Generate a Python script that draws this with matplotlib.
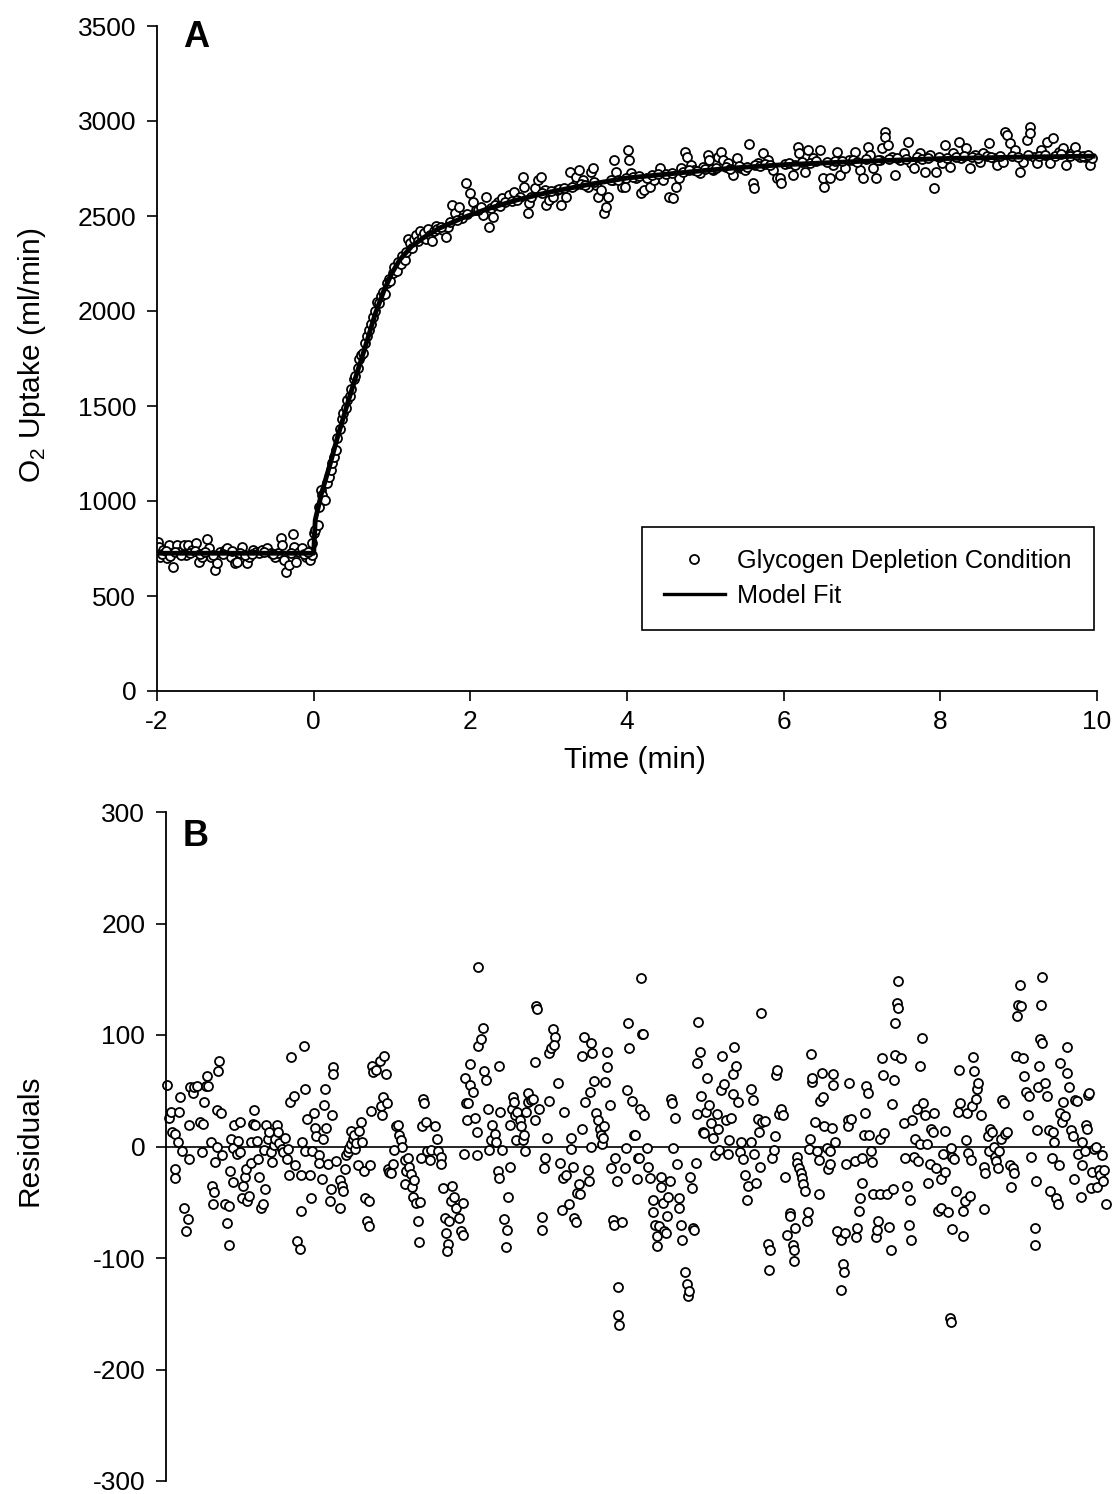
import numpy as np
import matplotlib
matplotlib.use("Agg")
import matplotlib.pyplot as plt
from matplotlib.lines import Line2D

plt.rcParams['font.family'] = ['Liberation Sans', 'DejaVu Sans']
plt.rcParams['mathtext.fontset'] = 'custom'
plt.rcParams['mathtext.rm'] = 'Liberation Sans'
plt.rcParams['axes.unicode_minus'] = False

# --- panel A: measured O2 uptake (time in min, ml/min) ---
obs_points = [
    # baseline
    (-1.99, 786), (-1.98, 760), (-1.96, 707), (-1.92, 742), (-1.87, 700), (-1.85, 768), (-1.81, 725),
    (-1.79, 654), (-1.74, 768), (-1.72, 733), (-1.66, 768), (-1.63, 716), (-1.60, 768), (-1.55, 742),
    (-1.50, 777), (-1.47, 681), (-1.43, 707), (-1.36, 798), (-1.34, 751), (-1.31, 707), (-1.26, 637),
    (-1.23, 672), (-1.19, 733), (-1.13, 742), (-1.10, 751), (-1.06, 707), (-1.01, 672), (-0.98, 681),
    (-0.91, 760), (-0.85, 672), (-0.82, 707), (-0.77, 742), (-0.74, 733), (-0.70, 725), (-0.66, 742),
    (-0.60, 751), (-0.55, 725), (-0.49, 707), (-0.45, 725), (-0.42, 807), (-0.40, 768), (-0.38, 690),
    (-0.35, 628), (-0.32, 663), (-0.27, 824), (-0.25, 760), (-0.22, 681), (-0.19, 733), (-0.15, 751),
    (-0.10, 707), (-0.05, 690), (-0.02, 716),
    (-1.94, 720), (-1.89, 735), (-1.83, 710), (-1.77, 730), (-1.69, 715), (-1.58, 725), (-1.52, 735),
    (-1.45, 720), (-1.39, 730), (-1.28, 715), (-1.16, 720), (-1.04, 735), (-0.94, 725), (-0.88, 715),
    (-0.79, 720), (-0.63, 730), (-0.52, 720), (-0.29, 725), (-0.12, 720), (-0.07, 730),
    # on-transient
    (-0.02, 777), (0.00, 830), (0.02, 847), (0.05, 873), (0.07, 970), (0.09, 1058), (0.11, 1032),
    (0.15, 1005), (0.17, 1093), (0.19, 1128), (0.22, 1163), (0.24, 1198), (0.26, 1233), (0.28, 1268),
    (0.30, 1330), (0.33, 1380), (0.36, 1430), (0.38, 1465), (0.41, 1490), (0.43, 1530), (0.46, 1555),
    (0.48, 1590), (0.51, 1640), (0.53, 1660), (0.56, 1700), (0.58, 1745), (0.61, 1770), (0.63, 1780),
    (0.66, 1830), (0.68, 1870), (0.71, 1900), (0.73, 1930), (0.76, 1970), (0.78, 2000), (0.81, 2050),
    (0.83, 2040), (0.86, 2080), (0.88, 2100), (0.91, 2090), (0.93, 2150), (0.96, 2170), (0.98, 2160),
    (1.01, 2200), (1.03, 2230), (1.06, 2210), (1.08, 2260), (1.11, 2250), (1.13, 2290), (1.16, 2270),
    (1.18, 2310), (1.21, 2380), (1.23, 2360), (1.26, 2330), (1.28, 2380), (1.31, 2400), (1.33, 2370),
    (1.36, 2420), (1.38, 2390), (1.41, 2410), (1.43, 2380), (1.46, 2430), (1.48, 2400), (1.51, 2370),
    (1.53, 2420), (1.56, 2450), (1.58, 2430),
    # slow component / steady state
    (1.65, 2426), (1.69, 2391), (1.71, 2444), (1.77, 2558), (1.80, 2514), (1.86, 2549), (1.90, 2488),
    (1.94, 2672), (1.99, 2619), (2.03, 2575), (2.07, 2532), (2.16, 2505), (2.20, 2602), (2.24, 2444),
    (2.29, 2497), (2.35, 2575), (2.41, 2593), (2.50, 2611), (2.56, 2628), (2.63, 2602), (2.67, 2707),
    (2.69, 2654), (2.73, 2514), (2.75, 2567), (2.82, 2646), (2.86, 2690), (2.90, 2707), (2.95, 2637),
    (2.97, 2558), (3.01, 2584), (3.05, 2602), (3.10, 2637), (3.16, 2558), (3.22, 2602), (3.27, 2733),
    (3.33, 2663), (3.35, 2707), (3.39, 2742), (3.44, 2690), (3.50, 2654), (3.54, 2733), (3.56, 2751),
    (3.61, 2663), (3.63, 2602), (3.67, 2637), (3.70, 2514), (3.73, 2549), (3.76, 2602), (3.82, 2690),
    (3.84, 2795), (3.86, 2733), (3.93, 2654), (3.97, 2654), (4.01, 2847), (4.02, 2795), (4.05, 2725),
    (4.12, 2698), (4.18, 2619), (4.22, 2637), (4.29, 2654), (4.35, 2690), (4.42, 2751), (4.46, 2690),
    (4.54, 2602), (4.59, 2593), (4.63, 2654), (4.67, 2698), (4.69, 2751), (4.74, 2838), (4.76, 2812),
    (4.82, 2768), (4.86, 2742), (4.93, 2725), (4.97, 2760), (5.03, 2821), (5.05, 2795), (5.10, 2742),
    (5.16, 2812), (5.20, 2838), (5.23, 2795), (5.29, 2777), (5.35, 2716), (5.40, 2803), (5.46, 2751),
    (5.50, 2742), (5.56, 2879), (5.61, 2672), (5.62, 2646), (5.67, 2777), (5.73, 2830), (5.80, 2795),
    (5.86, 2742), (5.91, 2698), (5.95, 2698), (5.97, 2672), (6.12, 2716), (6.18, 2865), (6.20, 2830),
    (6.27, 2733), (6.31, 2847), (6.37, 2803), (6.46, 2847), (6.50, 2698), (6.52, 2654), (6.59, 2698),
    (6.63, 2768), (6.68, 2838), (6.72, 2716), (6.78, 2751), (6.84, 2795), (6.91, 2838), (6.97, 2742),
    (7.01, 2698), (7.08, 2865), (7.10, 2821), (7.14, 2751), (7.18, 2698), (7.23, 2795), (7.25, 2856),
    (7.29, 2944), (7.30, 2917), (7.33, 2873), (7.38, 2812), (7.42, 2716), (7.48, 2795), (7.53, 2830),
    (7.59, 2891), (7.63, 2777), (7.67, 2751), (7.74, 2830), (7.80, 2733), (7.87, 2821), (7.92, 2646),
    (7.95, 2733), (8.02, 2777), (8.06, 2873), (8.12, 2760), (8.16, 2830), (8.24, 2891), (8.27, 2803),
    (8.33, 2856), (8.38, 2751), (8.44, 2821), (8.51, 2786), (8.55, 2830), (8.62, 2882), (8.68, 2803),
    (8.72, 2768), (8.80, 2786), (8.82, 2944), (8.85, 2926), (8.89, 2882), (8.95, 2847), (9.02, 2733),
    (9.06, 2786), (9.10, 2900), (9.14, 2970), (9.15, 2935), (9.19, 2812), (9.23, 2777), (9.29, 2847),
    (9.36, 2891), (9.40, 2777), (9.44, 2908), (9.51, 2838), (9.57, 2856), (9.61, 2768), (9.68, 2830),
    (9.72, 2865), (9.78, 2812), (9.85, 2812), (9.91, 2768), (9.94, 2803),
    (1.62, 2440), (1.74, 2470), (1.83, 2480), (1.96, 2510), (2.10, 2530), (2.13, 2545), (2.26, 2540),
    (2.32, 2560), (2.38, 2555), (2.44, 2575), (2.53, 2580), (2.59, 2585), (2.78, 2600), (2.92, 2620),
    (3.03, 2630), (3.13, 2640), (3.19, 2650), (3.30, 2655), (3.41, 2670), (3.47, 2665), (3.58, 2680),
    (3.79, 2690), (3.89, 2690), (3.99, 2700), (4.08, 2705), (4.15, 2710), (4.25, 2700), (4.32, 2715),
    (4.39, 2720), (4.50, 2720), (4.57, 2725), (4.71, 2730), (4.79, 2740), (4.89, 2735), (5.00, 2745),
    (5.08, 2750), (5.13, 2755), (5.26, 2760), (5.32, 2750), (5.43, 2765), (5.53, 2760), (5.64, 2770),
    (5.70, 2765), (5.76, 2775), (5.83, 2770), (6.02, 2775), (6.07, 2780), (6.15, 2770), (6.23, 2785),
    (6.34, 2780), (6.41, 2790), (6.55, 2785), (6.66, 2790), (6.75, 2790), (6.88, 2795), (6.94, 2785),
    (7.05, 2800), (7.20, 2795), (7.35, 2800), (7.45, 2805), (7.56, 2800), (7.70, 2810), (7.77, 2800),
    (7.84, 2805), (7.98, 2810), (8.09, 2805), (8.20, 2810), (8.30, 2815), (8.41, 2810), (8.48, 2805),
    (8.59, 2815), (8.65, 2810), (8.76, 2815), (8.92, 2815), (8.99, 2810), (9.12, 2820), (9.26, 2815),
    (9.33, 2820), (9.47, 2815), (9.54, 2825), (9.65, 2815), (9.75, 2820), (9.82, 2815), (9.88, 2820),
]

# model fit
fit_t = [-2.0, 0.0, 0.02, 0.1, 0.2, 0.3, 0.43, 0.55, 0.65, 0.79, 0.9, 1.0, 1.1, 1.25, 1.4, 1.6,
         1.9, 2.2, 2.6, 3.0, 3.5, 4.0, 4.5, 5.0, 5.5, 6.0, 7.0, 8.0, 9.0, 9.95]
fit_v = [725, 725, 900, 1040, 1180, 1330, 1510, 1670, 1800, 1990, 2110, 2200, 2270, 2340, 2385, 2435,
         2490, 2535, 2585, 2625, 2665, 2700, 2720, 2740, 2757, 2770, 2788, 2802, 2810, 2815]

# --- panel B: residuals ---
resid_points = [
    (-1.99, 55), (-1.96, 26), (-1.94, 31), (-1.92, 13), (-1.89, 11), (-1.88, -20), (-1.89, -28), (-1.85, 4),
    (-1.82, 44), (-1.83, 31), (-1.79, -4), (-1.77, -55), (-1.72, -65), (-1.74, -76), (-1.71, -11), (-1.70, 19),
    (-1.69, 53), (-1.66, 48), (-1.64, 53), (-1.60, 54), (-1.56, 22), (-1.53, 20), (-1.54, -5), (-1.51, 40),
    (-1.49, 54), (-1.48, 63), (-1.46, 54), (-1.43, 4), (-1.41, -35), (-1.39, -41), (-1.40, -52), (-1.37, -14),
    (-1.35, 0), (-1.34, 68), (-1.32, 77), (-1.35, 33), (-1.30, 30), (-1.28, -8), (-1.25, -52), (-1.22, -69),
    (-1.20, -88), (-1.19, -53), (-1.18, -22), (-1.17, 7), (-1.15, -1), (-1.14, -32), (-1.13, 19), (-1.09, -7),
    (-1.08, 5), (-1.06, 22), (-1.05, -5), (-1.03, -46), (-1.01, -35), (-0.99, -27), (-0.98, -20), (-0.96, -49),
    (-0.94, -44), (-0.92, -15), (-0.91, 4), (-0.89, 20), (-0.88, 33), (-0.86, 19), (-0.84, 5), (-0.82, -11),
    (-0.81, -27), (-0.79, -55), (-0.76, -52), (-0.74, -38), (-0.75, -3), (-0.72, 19), (-0.70, 7), (-0.68, 13),
    (-0.66, -5), (-0.65, -14), (-0.62, 1), (-0.61, 7), (-0.58, 19), (-0.57, 13), (-0.55, 3), (-0.52, -2),
    (-0.50, -5), (-0.48, 8), (-0.45, -11), (-0.44, -2), (-0.43, -26), (-0.40, 80), (-0.41, 40), (-0.37, 45),
    (-0.35, -17), (-0.32, -85), (-0.29, -92), (-0.28, -58), (-0.27, -26), (-0.26, 4), (-0.24, 90), (-0.22, 52),
    (-0.23, -4), (-0.20, 25), (-0.16, -26), (-0.15, -46), (-0.13, -4), (-0.11, 30), (-0.10, 17), (-0.08, 9),
    (-0.05, -8), (-0.04, -15), (-0.01, -29), (0.00, 7), (0.02, 37), (0.03, 52), (0.05, 17), (0.07, -16),
    (0.10, -49), (0.11, -38), (0.12, 28), (0.13, 71), (0.14, 65), (0.17, -13), (0.22, -55), (0.23, -30),
    (0.25, -35), (0.26, -40), (0.29, -20), (0.30, -8), (0.32, -5), (0.34, -1), (0.36, 2), (0.37, 14),
    (0.39, 7), (0.40, 10), (0.41, -2), (0.43, 3), (0.45, -17), (0.47, 14), (0.49, 22), (0.50, 4),
    (0.53, -22), (0.54, -46), (0.57, -67), (0.59, -71), (0.60, -49), (0.61, -17), (0.62, 32), (0.63, 72),
    (0.65, 67), (0.68, 69), (0.73, 77), (0.75, 36), (0.76, 28), (0.77, 44), (0.79, 81), (0.81, 65),
    (0.82, 39), (0.84, -20), (0.85, -23),
    (0.88, -24), (0.90, -16), (0.94, 18), (0.97, 19), (0.98, 10), (1.00, 6), (1.02, 0), (0.92, -3),
    (1.05, -12), (1.09, -10), (1.07, -22), (1.11, -18), (1.13, -25), (1.06, -34), (1.15, -36), (1.17, -30),
    (1.16, -45), (1.19, -51), (1.24, -50), (1.22, -67), (1.23, -86), (1.26, -10), (1.28, 43), (1.30, 39),
    (1.27, 18), (1.32, 22), (1.34, -4), (1.38, -12), (1.39, -3), (1.44, 18), (1.46, 7), (1.48, -4),
    (1.51, -9), (1.52, -16), (1.54, -37), (1.56, -64), (1.58, -78), (1.60, -87), (1.59, -94), (1.62, -67),
    (1.64, -49), (1.66, -35), (1.68, -45), (1.71, -55), (1.74, -64), (1.77, -76), (1.79, -79), (1.80, -51),
    (1.81, -7), (1.82, 61), (1.83, 39), (1.85, 24), (1.86, 39), (1.88, 74), (1.89, 55), (1.92, 49),
    (1.95, 26), (1.97, -8), (1.98, 13), (1.99, 90), (1.99, 161), (2.03, 96), (2.05, 106), (2.07, 68),
    (2.09, 60), (2.11, 34), (2.13, -3), (2.15, 6), (2.17, 19), (2.20, 11), (2.22, 4), (2.24, -22),
    (2.25, -28), (2.26, 72), (2.27, 31), (2.29, -3), (2.32, -65), (2.35, -90), (2.36, -75), (2.37, -45),
    (2.39, -18), (2.40, 19), (2.42, 34), (2.44, 44), (2.45, 40), (2.46, 28), (2.47, 6), (2.49, 31),
    (2.52, 24), (2.54, 18), (2.56, 6), (2.58, 10), (2.59, -4), (2.60, 31), (2.62, 48), (2.63, 40),
    (2.66, 42), (2.69, 43), (2.71, 24), (2.72, 76), (2.73, 126), (2.74, 123), (2.77, 34), (2.83, -19),
    (2.84, -10), (2.81, -63), (2.80, -75), (2.87, 8), (2.89, 41), (2.90, 84), (2.92, 88), (2.94, 105),
    (2.97, 98), (2.96, 91), (3.01, 57), (3.04, -15), (3.07, -28), (3.08, 31), (3.06, -57), (3.11, -26),
    (3.15, -52), (3.17, -2), (3.18, 8), (3.20, -18), (3.22, -64), (3.24, -68), (3.25, -42), (3.28, -34),
    (3.29, -43), (3.31, 16), (3.32, 81), (3.34, 98), (3.35, 40), (3.39, -21), (3.41, -31), (3.42, 49),
    (3.43, 93), (3.45, 84), (3.43, 0), (3.47, 59), (3.50, 30), (3.52, 24), (3.54, 16), (3.56, 10),
    (3.57, 2), (3.58, 8), (3.60, 18), (3.61, 58), (3.63, 85), (3.64, 71), (3.67, 37), (3.69, -19),
    (3.71, -66), (3.73, -70), (3.74, -10), (3.76, -31), (3.78, -126), (3.77, -151), (3.79, -160),
    (3.83, -68), (3.86, -19), (3.88, -1), (3.89, 51), (3.90, 111), (3.92, 88), (3.95, 41), (3.98, 10),
    (3.99, 10), (4.02, -29), (4.03, -10), (4.05, -10), (4.06, 34), (4.07, 151), (4.08, 101), (4.10, 101),
    (4.11, 28), (4.15, -1), (4.16, -18), (4.19, -28), (4.22, -48), (4.23, -59), (4.25, -70), (4.27, -80),
    (4.28, -89), (4.30, -71), (4.32, -27), (4.33, -36), (4.35, -51), (4.37, -76), (4.39, -78), (4.40, -62),
    (4.42, -45), (4.44, -31), (4.46, 43), (4.47, 39), (4.48, -1), (4.50, 26), (4.53, -16), (4.55, -46),
    (4.56, -55), (4.58, -70), (4.60, -84), (4.63, -113), (4.66, -123), (4.67, -134), (4.68, -130), (4.70, -27),
    (4.72, -37), (4.73, -73), (4.75, -75), (4.77, -15), (4.78, 29), (4.79, 75), (4.80, 112), (4.82, 85),
    (4.84, 45), (4.86, 13), (4.88, 12), (4.90, 31), (4.92, 61), (4.94, 37), (4.96, 21), (4.99, 8),
    (5.01, -8), (5.04, 29), (5.06, 16), (5.07, -3), (5.09, 51), (5.11, 81), (5.13, 56), (5.16, 24),
    (5.18, -7), (5.20, 6), (5.22, 26), (5.24, 47), (5.25, 65), (5.26, 89), (5.28, 72), (5.31, 40),
    (5.33, -5), (5.35, 4), (5.38, -11), (5.40, -26), (5.42, -48), (5.44, -35), (5.47, 4), (5.48, 52),
    (5.50, 42), (5.52, -7), (5.54, -33), (5.56, 25), (5.58, 13), (5.59, -18), (5.61, 120), (5.62, 22),
    (5.65, 23), (5.69, -87), (5.72, -93), (5.71, -111), (5.74, -10), (5.77, -3), (5.78, 9), (5.80, 64),
    (5.81, 69), (5.84, 29), (5.86, 34), (5.88, 28), (5.91, -27), (5.94, -79), (5.97, -60), (5.98, -62),
    (6.01, -88), (6.02, -93), (6.03, -103), (6.04, -73), (6.06, -9), (6.07, -15), (6.09, -19), (6.11, -24),
    (6.13, -28), (6.14, -34), (6.16, -40), (6.19, -67), (6.21, -59), (6.22, -2), (6.23, 7), (6.24, 83),
    (6.25, 58), (6.26, 61), (6.29, 22), (6.32, -4), (6.34, -12), (6.35, -43), (6.36, 41), (6.38, 66),
    (6.39, 44), (6.41, 18), (6.45, -1), (6.46, -20), (6.48, -16), (6.49, -4), (6.51, 17), (6.52, 55),
    (6.53, 65), (6.55, 4), (6.58, -76), (6.62, -129), (6.63, -84), (6.65, -105), (6.67, -113), (6.68, -78),
    (6.69, -16), (6.71, 24), (6.72, 18), (6.73, 57),
    (6.75, 25), (6.80, -13), (6.83, -73), (6.82, -81), (6.86, -58), (6.87, -46), (6.89, -33), (6.90, -10),
    (6.93, 30), (6.94, 54), (6.97, 48), (6.92, 10), (6.99, 10), (7.01, -4), (7.02, -14), (7.04, -43),
    (7.07, -81), (7.09, -75), (7.10, -67), (7.12, -43), (7.13, 7), (7.15, 79), (7.16, 64), (7.17, 12),
    (7.21, -43), (7.24, -72), (7.27, -93), (7.29, -38), (7.28, 38), (7.30, 60), (7.31, 82), (7.32, 111),
    (7.34, 129), (7.36, 124), (7.35, 148), (7.39, 79), (7.43, 21), (7.44, -10), (7.47, -35), (7.50, -70),
    (7.51, -48), (7.52, -84), (7.53, 24), (7.56, -9), (7.57, 7), (7.60, 34), (7.61, -13), (7.63, 2),
    (7.64, 72), (7.66, 97), (7.68, 39), (7.70, 28), (7.73, 2), (7.74, -33), (7.76, -16), (7.78, 16),
    (7.80, 13), (7.82, 30), (7.84, -19), (7.86, -58), (7.90, -55), (7.91, -29), (7.93, -7), (7.95, 14),
    (7.96, -23), (7.99, -59), (8.02, -154), (8.03, -157), (8.03, -1), (8.04, -74), (8.05, -9), (8.07, -11),
    (8.10, -40), (8.12, 31), (8.13, 69), (8.15, 39), (8.18, -58), (8.19, -80), (8.21, -49), (8.22, 6),
    (8.24, 30), (8.25, -6), (8.28, -44), (8.29, -12), (8.30, 36), (8.31, 80), (8.32, 68), (8.35, 43),
    (8.36, 52), (8.38, 57), (8.42, 28), (8.45, -18), (8.47, -24), (8.46, -56), (8.50, 9), (8.52, -4),
    (8.53, 16), (8.55, 13), (8.58, 0), (8.59, -9), (8.61, -13), (8.63, -19), (8.65, -4), (8.67, 7),
    (8.68, 42), (8.71, 39), (8.72, 11), (8.75, 13), (8.78, -17), (8.80, -36), (8.82, -19), (8.84, -24),
    (8.86, 81), (8.88, 117), (8.89, 127), (8.91, 145), (8.93, 126), (8.95, 79), (8.97, 63), (8.99, 49),
    (9.01, 28), (9.03, 45), (9.06, -9), (9.10, -73), (9.11, -88), (9.12, -31), (9.13, 15), (9.15, 53),
    (9.16, 72), (9.17, 96), (9.18, 127), (9.19, 152), (9.20, 93), (9.23, 57), (9.26, 45), (9.28, 15),
    (9.30, -40), (9.32, -10), (9.33, 13), (9.35, 4), (9.37, -46), (9.40, -52), (9.41, -17), (9.42, 75),
    (9.43, 30), (9.45, 22), (9.46, 40), (9.49, 27), (9.51, 66), (9.52, 89), (9.54, 53), (9.57, 15),
    (9.59, 9), (9.60, -29), (9.62, 42), (9.64, 41), (9.66, -7), (9.69, -45), (9.70, -17), (9.71, 4),
    (9.74, -4), (9.76, 19), (9.77, 16), (9.78, 46), (9.79, 48), (9.82, -37), (9.84, -23), (9.86, -2),
    (9.89, 0), (9.90, -36), (9.92, -21), (9.94, -26), (9.96, -8), (9.97, -31), (9.99, -21), (10.01, -52),
]

x_ticks = [-2, 0, 2, 4, 6, 8, 10]
yA_ticks = [0, 500, 1000, 1500, 2000, 2500, 3000, 3500]
yB_ticks = [-300, -200, -100, 0, 100, 200, 300]

t_obs, vo2_obs = np.array(obs_points).T
t_res, res = np.array(resid_points).T

W, H = 1117, 1494
fig = plt.figure(figsize=(W / 100, H / 100), dpi=100)

TICK_FS = 19
LABEL_FS = 21.5
marker_kw = dict(s=42, facecolors='white', edgecolors='black', linewidths=1.3)

# panel A
ax1 = fig.add_axes([157 / W, 1 - 691 / H, 940 / W, 665 / H])
ax1.scatter(t_obs, vo2_obs, zorder=2, **marker_kw)
ax1.plot(fit_t, fit_v, color='black', lw=3.5, zorder=3)
ax1.set_xlim(-2, 10)
ax1.set_ylim(0, 3500)
ax1.set_xticks(x_ticks)
ax1.set_yticks(yA_ticks)
for s in ['top', 'right']:
    ax1.spines[s].set_visible(False)
for s in ['left', 'bottom']:
    ax1.spines[s].set_linewidth(1.3)
ax1.tick_params(direction='out', length=7, width=1.2, labelsize=TICK_FS)
ax1.tick_params(axis='x', pad=7)
ax1.tick_params(axis='y', pad=8)
ax1.text(0.508, -0.104, 'Time (min)', transform=ax1.transAxes, ha='center', va='center',
         fontsize=LABEL_FS)
ax1.text(-0.133, 0.505, r'O$_\mathregular{2}$ Uptake (ml/min)', transform=ax1.transAxes,
         rotation=90, ha='center', va='center', fontsize=LABEL_FS)
ax1.text(0.0415, 0.983, 'A', transform=ax1.transAxes, ha='center', va='center',
         fontsize=26, fontweight='bold')

handles = [Line2D([], [], marker='o', ls='none', mfc='white', mec='black', ms=6.5, mew=1.3),
           Line2D([], [], color='black', lw=2.4)]
leg = ax1.legend(handles, ['Glycogen Depletion Condition', 'Model Fit'],
                 loc='upper left', bbox_to_anchor=(0.516, 0.2466), fontsize=18.2,
                 frameon=True, fancybox=False, framealpha=1, edgecolor='black',
                 handlelength=2.4, handletextpad=0.5, borderpad=0.87, labelspacing=0.44,
                 borderaxespad=0)
leg.get_frame().set_linewidth(1.2)

# panel B
ax2 = fig.add_axes([166 / W, 1 - 1481 / H, 939 / W, 669 / H])
ax2.axhline(0, color='black', lw=1.2, zorder=1)
ax2.scatter(t_res, res, zorder=2, clip_on=False, **marker_kw)
ax2.set_xlim(-2, 10)
ax2.set_ylim(-300, 300)
ax2.set_yticks(yB_ticks)
for s in ['top', 'right', 'bottom']:
    ax2.spines[s].set_visible(False)
ax2.spines['left'].set_linewidth(1.3)
ax2.tick_params(axis='x', bottom=False, labelbottom=False)
ax2.tick_params(axis='y', direction='out', length=7, width=1.2, labelsize=TICK_FS, pad=8)
ax2.text(-0.145, 0.51, 'Residuals', transform=ax2.transAxes, rotation=90,
         ha='center', va='center', fontsize=LABEL_FS)
ax2.text(0.032, 0.964, 'B', transform=ax2.transAxes, ha='center', va='center',
         fontsize=26, fontweight='bold')

fig.savefig('out.png', dpi=100)
